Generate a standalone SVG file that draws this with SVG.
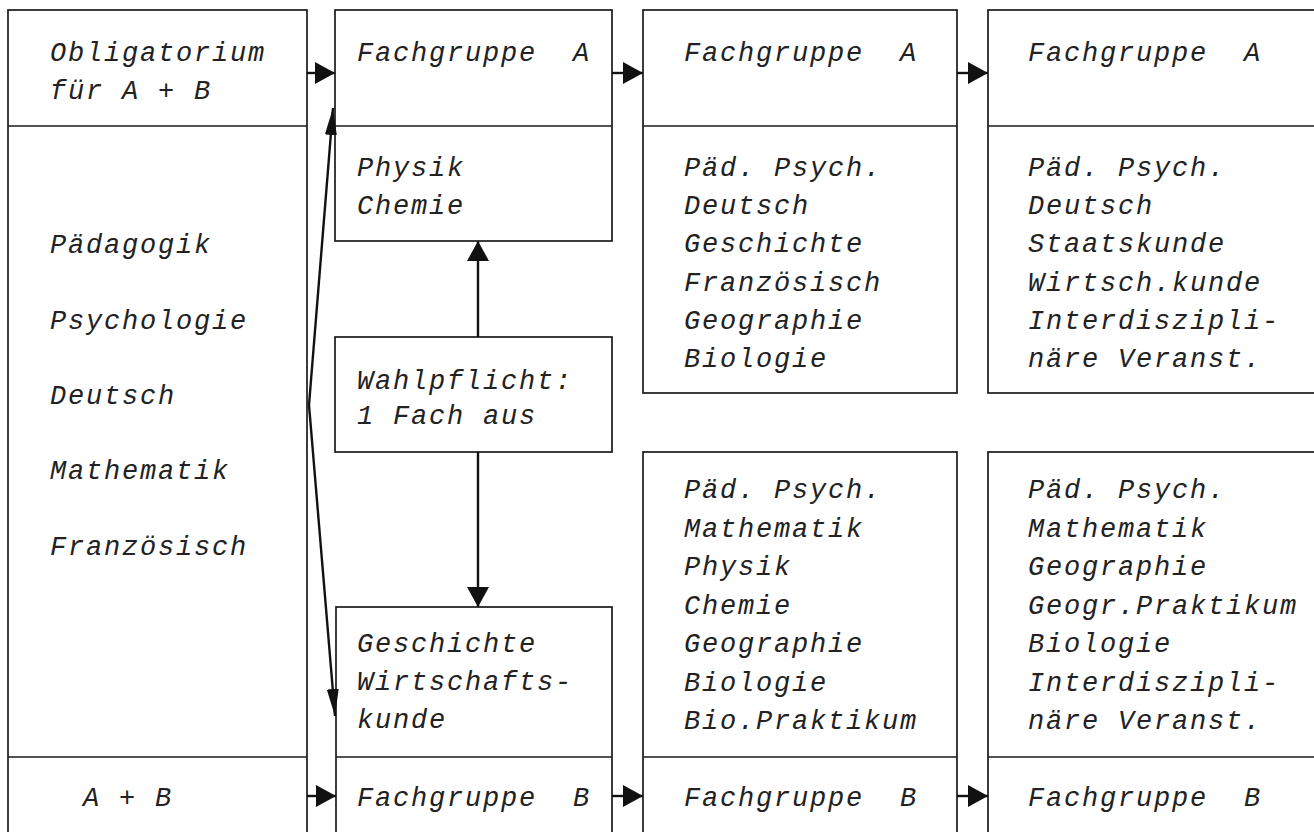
<svg xmlns="http://www.w3.org/2000/svg" width="1314" height="832" viewBox="0 0 1314 832">
<style>
.b{fill:none;stroke:#1a1a1a;stroke-width:1.7}
.t{font-family:"Liberation Mono","Courier New",monospace;font-style:italic;font-size:27px;letter-spacing:1.8px;fill:#222;white-space:pre}
.c{fill:none;stroke:#111;stroke-width:2.4}
</style>
<defs>
<marker id="ah" markerUnits="userSpaceOnUse" markerWidth="20" markerHeight="24" refX="20" refY="12" orient="auto"><path d="M0,1 L20,12 L0,23 z" fill="#111"/></marker>
<marker id="as" markerUnits="userSpaceOnUse" markerWidth="27" markerHeight="14" refX="27" refY="7" orient="auto"><path d="M0,1 L27,7 L0,13 z" fill="#111"/></marker>
</defs>
<rect width="1314" height="832" fill="#fff"/>
<g id="obligatorium">
<rect class="b" x="8" y="10" width="299" height="832"/>
<line class="b" x1="8" y1="126" x2="307" y2="126"/>
<line class="b" x1="8" y1="757" x2="307" y2="757"/>
<text class="t" x="50" y="61">Obligatorium</text>
<text class="t" x="50" y="99">für A + B</text>
<text class="t" x="50" y="253">Pädagogik</text>
<text class="t" x="50" y="329">Psychologie</text>
<text class="t" x="50" y="404">Deutsch</text>
<text class="t" x="50" y="479">Mathematik</text>
<text class="t" x="50" y="555">Französisch</text>
<text class="t" x="83" y="806">A + B</text>
</g>
<g id="fachgruppe-a1">
<rect class="b" x="335" y="10" width="277" height="231"/>
<line class="b" x1="335" y1="126" x2="612" y2="126"/>
<text class="t" x="357" y="61">Fachgruppe  A</text>
<text class="t" x="357" y="176">Physik</text>
<text class="t" x="357" y="214">Chemie</text>
</g>
<g id="wahlpflicht">
<rect class="b" x="335" y="337" width="277" height="115"/>
<text class="t" x="357" y="389">Wahlpflicht:</text>
<text class="t" x="357" y="424">1 Fach aus</text>
</g>
<g id="fachgruppe-b1">
<rect class="b" x="336" y="607" width="276" height="235"/>
<line class="b" x1="336" y1="757" x2="612" y2="757"/>
<text class="t" x="357" y="652">Geschichte</text>
<text class="t" x="357" y="690">Wirtschafts-</text>
<text class="t" x="357" y="728">kunde</text>
<text class="t" x="357" y="806">Fachgruppe  B</text>
</g>
<g id="fachgruppe-a2">
<rect class="b" x="643" y="10" width="314" height="383"/>
<line class="b" x1="643" y1="126" x2="957" y2="126"/>
<text class="t" x="684" y="61">Fachgruppe  A</text>
<text class="t" x="684" y="176">Päd. Psych.</text>
<text class="t" x="684" y="214">Deutsch</text>
<text class="t" x="684" y="252">Geschichte</text>
<text class="t" x="684" y="291">Französisch</text>
<text class="t" x="684" y="329">Geographie</text>
<text class="t" x="684" y="367">Biologie</text>
</g>
<g id="fachgruppe-b2">
<rect class="b" x="643" y="452" width="314" height="390"/>
<line class="b" x1="643" y1="757" x2="957" y2="757"/>
<text class="t" x="684" y="498">Päd. Psych.</text>
<text class="t" x="684" y="537">Mathematik</text>
<text class="t" x="684" y="575">Physik</text>
<text class="t" x="684" y="614">Chemie</text>
<text class="t" x="684" y="652">Geographie</text>
<text class="t" x="684" y="691">Biologie</text>
<text class="t" x="684" y="729">Bio.Praktikum</text>
<text class="t" x="684" y="806">Fachgruppe  B</text>
</g>
<g id="fachgruppe-a3">
<rect class="b" x="988" y="10" width="340" height="383"/>
<line class="b" x1="988" y1="126" x2="1314" y2="126"/>
<text class="t" x="1028" y="61">Fachgruppe  A</text>
<text class="t" x="1028" y="176">Päd. Psych.</text>
<text class="t" x="1028" y="214">Deutsch</text>
<text class="t" x="1028" y="252">Staatskunde</text>
<text class="t" x="1028" y="291">Wirtsch.kunde</text>
<text class="t" x="1028" y="329">Interdiszipli-</text>
<text class="t" x="1028" y="367">näre Veranst.</text>
</g>
<g id="fachgruppe-b3">
<rect class="b" x="988" y="452" width="340" height="390"/>
<line class="b" x1="988" y1="757" x2="1314" y2="757"/>
<text class="t" x="1028" y="498">Päd. Psych.</text>
<text class="t" x="1028" y="537">Mathematik</text>
<text class="t" x="1028" y="575">Geographie</text>
<text class="t" x="1028" y="614">Geogr.Praktikum</text>
<text class="t" x="1028" y="652">Biologie</text>
<text class="t" x="1028" y="691">Interdiszipli-</text>
<text class="t" x="1028" y="729">näre Veranst.</text>
<text class="t" x="1028" y="806">Fachgruppe  B</text>
</g>
<g id="connectors">
<line class="c" x1="307" y1="73" x2="335" y2="73" marker-end="url(#ah)"/>
<line class="c" x1="612" y1="73" x2="643" y2="73" marker-end="url(#ah)"/>
<line class="c" x1="957" y1="73" x2="988" y2="73" marker-end="url(#ah)"/>
<line class="c" x1="307" y1="796" x2="336" y2="796" marker-end="url(#ah)"/>
<line class="c" x1="612" y1="796" x2="643" y2="796" marker-end="url(#ah)"/>
<line class="c" x1="957" y1="796" x2="988" y2="796" marker-end="url(#ah)"/>
<line class="c" x1="478" y1="337" x2="478" y2="241" marker-end="url(#ah)"/>
<line class="c" x1="478" y1="452" x2="478" y2="607" marker-end="url(#ah)"/>
<line class="c" x1="309" y1="405" x2="333" y2="108" marker-end="url(#as)"/>
<line class="c" x1="309" y1="405" x2="335" y2="716" marker-end="url(#as)"/>
</g>
</svg>
